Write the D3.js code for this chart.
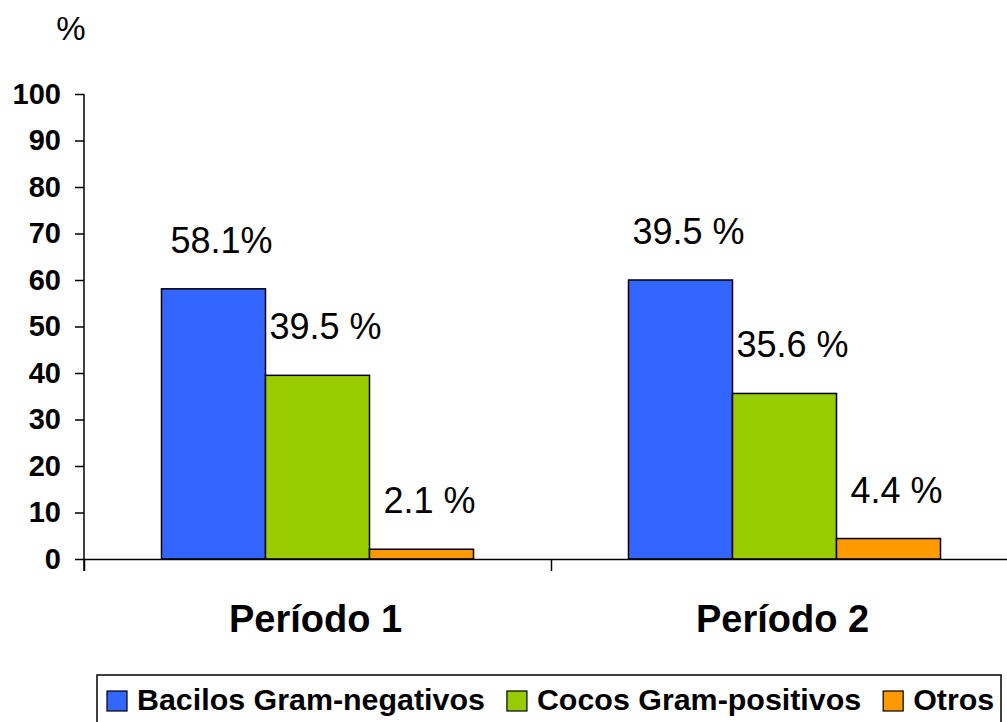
<!DOCTYPE html>
<html>
<head>
<meta charset="utf-8">
<script src="https://cdn.jsdelivr.net/npm/d3@7"></script>
<style>
  html, body { margin: 0; padding: 0; background: #fff; }
  svg { display: block; font-family: Arial, "Liberation Sans", sans-serif; }
</style>
</head>
<body>
<svg id="chart" width="1007" height="722"></svg>
<script>
// Categories, series and values
const periods = ["Período 1", "Período 2"];
const seriesNames = ["Bacilos Gram-negativos", "Cocos Gram-positivos", "Otros"];
const bacilos = [58.1, 60.0];
const cocos = [39.5, 35.6];
const otros = [2.1, 4.4];
// Data label texts as printed above each bar
const labelsBacilos = ["58.1%", "39.5 %"];
const labelsCocos = ["39.5 %", "35.6 %"];
const labelsOtros = ["2.1 %", "4.4 %"];
const yTicks = [0, 10, 20, 30, 40, 50, 60, 70, 80, 90, 100];
const colors = ["#3366FF", "#99CC00", "#FF9900"];

const seriesValues = [bacilos, cocos, otros];
const seriesLabels = [labelsBacilos, labelsCocos, labelsOtros];

const svg = d3.select("#chart");

const plotLeft = 84, plotRight = 1018, plotTop = 94, plotBottom = 559;

const y = d3.scaleLinear().domain([0, 100]).range([plotBottom, plotTop]);
const x0 = d3.scaleBand().domain(periods).range([plotLeft, plotRight]).padding(0);
const x1 = d3.scaleBand().domain(seriesNames).range([0, x0.bandwidth()])
  .paddingInner(0).paddingOuter(0.745);

// Y axis
const yAxis = svg.append("g")
  .attr("transform", `translate(${plotLeft},0)`)
  .call(d3.axisLeft(y).tickValues(yTicks).tickSize(9).tickSizeOuter(0).tickPadding(14));
yAxis.select(".domain").remove();
yAxis.selectAll(".tick line").attr("stroke", "#000").attr("stroke-width", 1.5);
yAxis.selectAll(".tick text")
  .attr("font-size", 29).attr("font-weight", "bold").attr("fill", "#000")
  .attr("font-family", "Arial, 'Liberation Sans', sans-serif");

// Y axis line, extended down to the category boundary tick
svg.append("line")
  .attr("x1", plotLeft).attr("x2", plotLeft)
  .attr("y1", plotTop).attr("y2", plotBottom + 12)
  .attr("stroke", "#000").attr("stroke-width", 1.5);

// "%" unit label
svg.append("text")
  .attr("x", 71).attr("y", 40)
  .attr("text-anchor", "middle")
  .attr("font-size", 33)
  .text("%");

// Bars
const rows = [];
periods.forEach((p, i) => {
  seriesNames.forEach((s, j) => {
    rows.push({ period: p, series: s, value: seriesValues[j][i], label: seriesLabels[j][i], color: colors[j] });
  });
});

svg.append("g").selectAll("rect")
  .data(rows)
  .join("rect")
  .attr("x", d => x0(d.period) + x1(d.series))
  .attr("y", d => y(d.value))
  .attr("width", x1.bandwidth())
  .attr("height", d => y(0) - y(d.value))
  .attr("fill", d => d.color)
  .attr("stroke", "#000")
  .attr("stroke-width", 1.5);

// X axis baseline with category boundary ticks
const xb = d3.scaleLinear().domain([0, periods.length]).range([plotLeft, plotRight]);
const xAxis = svg.append("g")
  .attr("transform", `translate(0,${plotBottom})`)
  .call(d3.axisBottom(xb).tickValues(d3.range(periods.length + 1)).tickSize(12).tickSizeOuter(0).tickFormat(""));
xAxis.select(".domain").attr("stroke", "#000").attr("stroke-width", 1.5);
xAxis.selectAll(".tick line").attr("stroke", "#000").attr("stroke-width", 1.5);

// Category labels
svg.append("g").selectAll("text")
  .data(periods)
  .join("text")
  .attr("x", d => x0(d) + x0.bandwidth() / 2 - 2)
  .attr("y", 632)
  .attr("text-anchor", "middle")
  .attr("font-size", 38)
  .attr("font-weight", "bold")
  .text(d => d);

// Value labels above bars
svg.append("g").selectAll("text")
  .data(rows)
  .join("text")
  .attr("x", d => x0(d.period) + x1(d.series) + x1.bandwidth() / 2 + 8)
  .attr("y", d => y(d.value) - 36)
  .attr("text-anchor", "middle")
  .attr("font-size", 36)
  .attr("fill", "#000")
  .text(d => d.label);

// Legend
const legend = svg.append("g");
legend.append("rect")
  .attr("x", 97).attr("y", 675)
  .attr("width", 904).attr("height", 70)
  .attr("fill", "#fff")
  .attr("stroke", "#000").attr("stroke-width", 1.5);

let lx = 107;
seriesNames.forEach((name, j) => {
  legend.append("rect")
    .attr("x", lx).attr("y", 691)
    .attr("width", 20).attr("height", 20)
    .attr("fill", colors[j])
    .attr("stroke", "#000").attr("stroke-width", 1.2);
  const t = legend.append("text")
    .attr("x", lx + 30).attr("y", 710)
    .attr("font-size", 30.4)
    .attr("font-weight", "bold")
    .text(name);
  lx += 30 + t.node().getComputedTextLength() + 22;
});
</script>
</body>
</html>
